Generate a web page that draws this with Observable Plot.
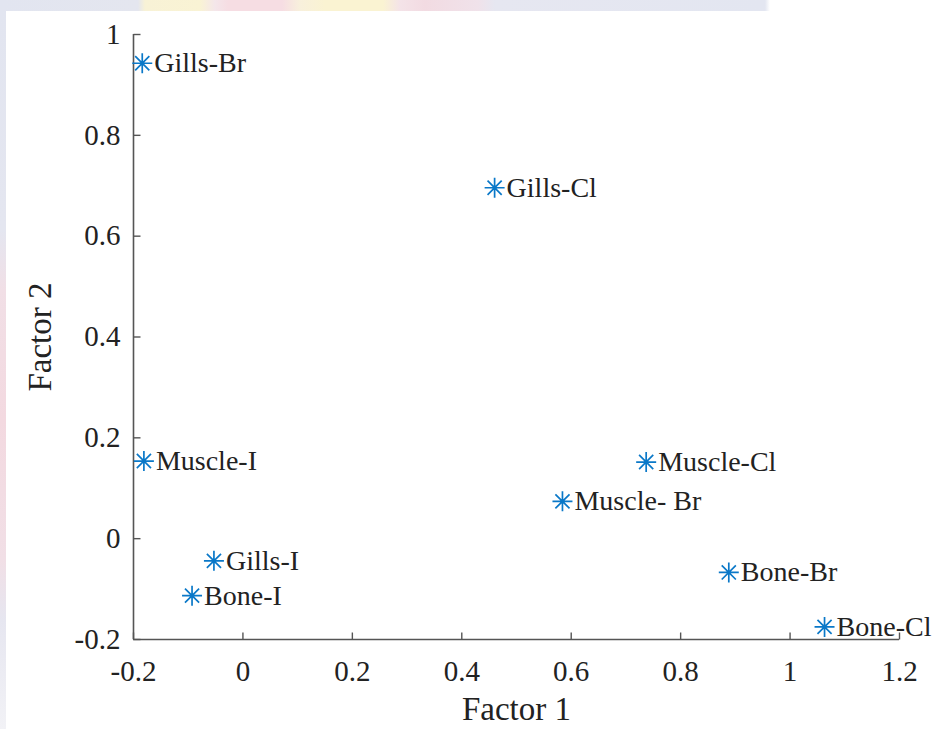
<!DOCTYPE html>
<html>
<head>
<meta charset="utf-8">
<script src="https://cdn.jsdelivr.net/npm/d3@7"></script>
<script src="https://cdn.jsdelivr.net/npm/@observablehq/plot@0.6"></script>
<style>
  html, body { margin: 0; padding: 0; background: #ffffff; }
  #wrap { position: relative; width: 937px; height: 729px; overflow: hidden; background: #ffffff; }
  #topband {
    position: absolute; left: 0; top: 0; width: 937px; height: 11px;
    background: linear-gradient(to right,
      #e2e5f0 0px, #e4e6ef 138px, #f8f2d6 145px, #f9f3d4 200px, #f4e6ea 215px,
      #f6dde3 228px, #f6dde3 282px, #f8f0dc 300px, #faf3d2 325px, #faf3d2 383px,
      #f4e3e8 400px, #f2dbe2 425px, #f0e2ea 478px, #e6e7f1 495px, #e3e6f1 765px,
      #ffffff 770px, #ffffff 937px);
  }
  #leftband {
    position: absolute; left: 0; top: 0; width: 6px; height: 729px;
    background: linear-gradient(to bottom,
      #e2e5f0 0px, #e4e6f0 230px, #f1dfe6 290px, #f3d9e0 420px, #f1dfe6 560px,
      #e6e6f0 620px, #f2f2f6 729px);
  }
  #chart { position: absolute; left: 0; top: 0; }
</style>
</head>
<body>
<div id="wrap">
  <div id="topband"></div>
  <div id="leftband"></div>
  <div id="chart"></div>
</div>
<script>
// Factor scores of the tissue samples (Factor 1 vs Factor 2)
const samples = ["Gills-Br", "Gills-Cl", "Muscle-I", "Muscle-Cl", "Muscle- Br", "Gills-I", "Bone-I", "Bone-Br", "Bone-Cl"];
const factor1 = [-0.184, 0.460, -0.181, 0.737, 0.584, -0.053, -0.093, 0.888, 1.063];
const factor2 = [0.943, 0.696, 0.154, 0.152, 0.074, -0.044, -0.113, -0.067, -0.175];

// Axis ticks
const xTicks = [-0.2, 0, 0.2, 0.4, 0.6, 0.8, 1, 1.2];
const yTicks = [-0.2, 0, 0.2, 0.4, 0.6, 0.8, 1];

const points = samples.map((name, i) => ({name, f1: factor1[i], f2: factor2[i]}));

const serif = "'Liberation Serif', 'Times New Roman', serif";
const axisColor = "#555555";
const markerColor = "#0a78c8";
const textColor = "#222222";

// Eight-spoke asterisk marker
const asterisk8 = {
  draw(ctx, size) {
    const r = Math.sqrt(size / Math.PI);
    for (let k = 0; k < 4; ++k) {
      const a = (k * Math.PI) / 4;
      const c = Math.cos(a) * r, s = Math.sin(a) * r;
      ctx.moveTo(c, s);
      ctx.lineTo(-c, -s);
    }
  }
};

// Inward tick marks (pointing into the plot)
const tickUp = { draw(ctx) { ctx.moveTo(0, 0); ctx.lineTo(0, -7); } };
const tickRight = { draw(ctx) { ctx.moveTo(0, 0); ctx.lineTo(7, 0); } };

const fmt = d => String(d);

const chart = Plot.plot({
  width: 937,
  height: 729,
  marginLeft: 133,
  marginRight: 38,
  marginTop: 34,
  marginBottom: 90,
  style: { background: "transparent", fontFamily: serif, color: textColor },
  x: { domain: [-0.2, 1.2] },
  y: { domain: [-0.2, 1] },
  marks: [
    // axis lines (box off)
    Plot.ruleY([-0.2], { stroke: axisColor, strokeWidth: 1.6 }),
    Plot.ruleX([-0.2], { stroke: axisColor, strokeWidth: 1.6 }),
    // inward ticks
    Plot.dot(xTicks, { x: d => d, frameAnchor: "bottom", symbol: tickUp, r: 5, fill: "none", stroke: axisColor, strokeWidth: 1.4 }),
    Plot.dot(yTicks, { y: d => d, frameAnchor: "left", symbol: tickRight, r: 5, fill: "none", stroke: axisColor, strokeWidth: 1.4 }),
    // tick labels
    Plot.axisX(xTicks, { tickSize: 0, tickPadding: 21, tickFormat: fmt, fontSize: 29, label: null, fill: textColor }),
    Plot.axisY(yTicks, { tickSize: 0, tickPadding: 13, tickFormat: fmt, fontSize: 29, label: null, fill: textColor }),
    // axis titles
    Plot.text(["Factor 1"], { frameAnchor: "bottom", textAnchor: "middle", lineAnchor: "middle", dy: 70, fontSize: 33, fill: textColor, text: d => d }),
    Plot.text(["Factor 2"], { frameAnchor: "left", textAnchor: "middle", lineAnchor: "middle", dx: -93, rotate: -90, fontSize: 33, fill: textColor, text: d => d }),
    // samples
    Plot.dot(points, { x: "f1", y: "f2", symbol: asterisk8, r: 10, fill: "none", stroke: markerColor, strokeWidth: 1.7 }),
    Plot.text(points, { x: "f1", y: "f2", text: "name", dx: 12, textAnchor: "start", fontSize: 28, fill: textColor })
  ]
});

document.getElementById("chart").appendChild(chart);
</script>
</body>
</html>
